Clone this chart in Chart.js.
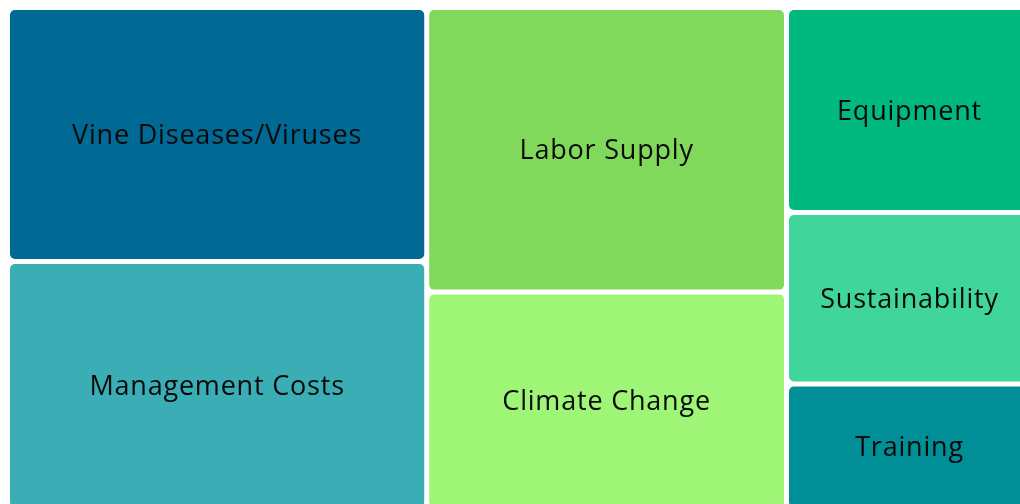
<!DOCTYPE html>
<html>
<head>
<meta charset="utf-8">
<script src="https://cdn.jsdelivr.net/npm/chart.js@4.4.1/dist/chart.umd.min.js"></script>
<style>
  html, body { margin: 0; padding: 0; overflow: hidden; background: #fff; }
  #wrap { position: absolute; left: 0; top: 0; width: 1040px; height: 520px; }
</style>
</head>
<body>
<div id="wrap"><canvas id="tree"></canvas></div>
<script>
// data
const labels = ['Vine Diseases/Viruses', 'Management Costs', 'Labor Supply', 'Climate Change', 'Equipment', 'Sustainability', 'Training'];
const values = [20.7, 20.2, 19.9, 15.2, 9.8, 8.2, 6.0];
const colors = ['#006994', '#3aaeb4', '#80d95a', '#9ef576', '#00b97f', '#40d69b', '#008f96'];

const W = 1025, H = 502;

// squarified layout in data units
function worst(row, side) {
  const s = row.reduce((a, r) => a + r.area, 0);
  let m = 0;
  row.forEach(r => {
    const a = Math.max(side * side * r.area / (s * s), (s * s) / (side * side * r.area));
    if (a > m) m = a;
  });
  return m;
}

function squarify(items, x, y, w, h) {
  const out = [];
  let rest = items.slice();
  while (rest.length) {
    const side = Math.min(w, h);
    let row = [rest[0]];
    let i = 1;
    while (i < rest.length && worst(row.concat([rest[i]]), side) <= worst(row, side)) {
      row.push(rest[i]);
      i++;
    }
    rest = rest.slice(i);
    const s = row.reduce((a, r) => a + r.area, 0);
    if (w >= h) {
      const cw = s / h;
      let cy = y;
      row.forEach(r => {
        const ch = r.area / cw;
        out.push({ i: r.i, x: x, y: cy, w: cw, h: ch });
        cy += ch;
      });
      x += cw; w -= cw;
    } else {
      const rh = s / w;
      let cx = x;
      row.forEach(r => {
        const rw = r.area / rh;
        out.push({ i: r.i, x: cx, y: y, w: rw, h: rh });
        cx += rw;
      });
      y += rh; h -= rh;
    }
  }
  return out;
}

const total = values.reduce((a, b) => a + b, 0);
const items = values.map((v, i) => ({ i: i, area: v / total * W * H }))
  .sort((a, b) => b.area - a.area);
const cells = squarify(items, 0, 0, W, H);

const treemapPlugin = {
  id: 'treemapCells',
  afterDatasetsDraw(chart) {
    const ctx = chart.ctx;
    const xs = chart.scales.x, ys = chart.scales.y;
    const gap = 5;
    ctx.save();
    cells.forEach(c => {
      const x0 = xs.getPixelForValue(c.x);
      const x1 = xs.getPixelForValue(c.x + c.w) - gap;
      const y0 = ys.getPixelForValue(c.y);
      const y1 = ys.getPixelForValue(c.y + c.h) - gap;
      ctx.fillStyle = colors[c.i];
      ctx.beginPath();
      ctx.roundRect(x0, y0, x1 - x0, y1 - y0, 5);
      ctx.fill();
      ctx.fillStyle = '#0a0a0a';
      ctx.font = '27px "Open Sans"';
      ctx.letterSpacing = '0.8px';
      ctx.textAlign = 'center';
      ctx.textBaseline = 'middle';
      ctx.fillText(labels[c.i], (x0 + x1) / 2, (y0 + y1) / 2 + 2);
    });
    ctx.restore();
  }
};

new Chart(document.getElementById('tree'), {
  type: 'scatter',
  data: {
    datasets: [{
      data: cells.map(c => ({ x: c.x + c.w / 2, y: c.y + c.h / 2 })),
      pointRadius: 0
    }]
  },
  options: {
    responsive: true,
    maintainAspectRatio: false,
    animation: false,
    layout: { padding: { left: 10, top: 10, right: 5, bottom: 8 } },
    plugins: { legend: { display: false }, tooltip: { enabled: false } },
    scales: {
      x: { display: false, min: 0, max: W },
      y: { display: false, min: 0, max: H, reverse: true }
    }
  },
  plugins: [treemapPlugin]
});
</script>
</body>
</html>
